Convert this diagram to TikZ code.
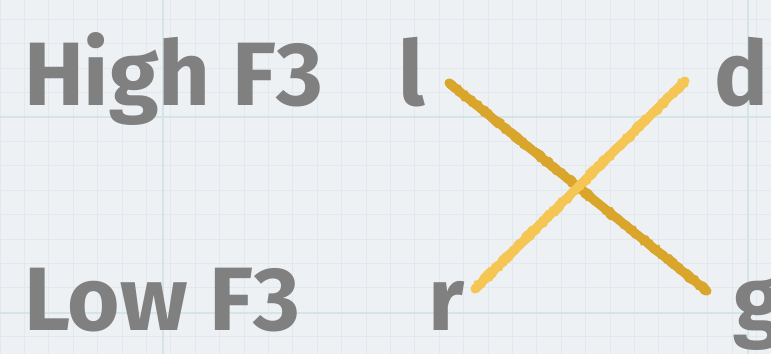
\documentclass[tikz,border=0pt]{standalone}
\usepackage{fontspec}
\setmainfont{Fira Sans}
\usepackage{xcolor}
\usepackage{tikz}
\usetikzlibrary{positioning, calc, decorations.pathmorphing}
\definecolor{paper}{RGB}{238,241,244}
\definecolor{minorline}{RGB}{226,232,237}
\definecolor{majorline}{RGB}{212,229,231}
\definecolor{chalkgray}{RGB}{128,128,128}
\definecolor{darkgold}{RGB}{217,165,43}
\definecolor{lightgold}{RGB}{245,198,84}
\tikzset{
  label/.style={inner sep=0pt, outer sep=0pt, anchor=base west, text=chalkgray,
    font=\fontsize{90}{90}\selectfont\bfseries},
  letter/.style={label},
  chalk/.style={line width=9pt, line cap=round},
  chalkedge/.style={line width=2pt, line cap=round,
    decorate, decoration={random steps, segment length=3pt, amplitude=1.2pt}}
}

\begin{document}
\begin{tikzpicture}[x=1pt, y=-1pt]
  \useasboundingbox (0,0) rectangle (771,354);
  \fill[paper] (0,0) rectangle (771,354);
  % graph paper
  \foreach \i in {0,...,32}
    \draw[minorline, line width=0.8pt] ({\i*24.4},0) -- ({\i*24.4},354);
  \foreach \j in {0,...,15}
    \draw[minorline, line width=0.8pt] (0,{\j*24.4-5}) -- (771,{\j*24.4-5});
  \foreach \i in {163,748}
    \draw[majorline, line width=1.4pt] (\i,0) -- (\i,354);
  \foreach \j in {117,313}
    \draw[majorline, line width=1.4pt] (0,\j) -- (771,\j);

  \node[label] (high) at (24,105) {High F3};
  \node[label] (low) at (24,330) {Low F3};
  \node[letter] (l) at (398,105) {l};
  \node[letter] (d) at (714,105) {d};
  \node[letter] (r) at (428,330) {r};
  \node[letter] (g) at (733,330) {g};

  \coordinate (lend) at (449,83);
  \coordinate (gend) at (707,291);
  \coordinate (rend) at (475,289);
  \coordinate (dend) at (685,81);

  \draw[chalk, darkgold] (lend) -- (gend);
  \draw[chalkedge, darkgold] ($(lend)+(1.5,-3.5)$) -- ($(gend)+(1.5,-3.5)$);
  \draw[chalkedge, darkgold] ($(lend)+(-1.5,3.5)$) -- ($(gend)+(-1.5,3.5)$);
  \draw[chalk, lightgold] (rend) -- (dend);
  \draw[chalkedge, lightgold] ($(rend)+(-2.5,-3)$) -- ($(dend)+(-2.5,-3)$);
  \draw[chalkedge, lightgold] ($(rend)+(2.5,3)$) -- ($(dend)+(2.5,3)$);
\end{tikzpicture}
\end{document}
